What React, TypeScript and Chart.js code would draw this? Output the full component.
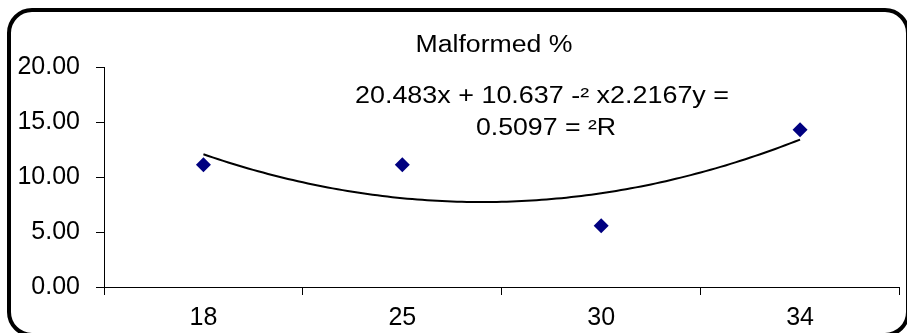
import React, { useEffect, useRef } from "react";
import { Chart, registerables } from "chart.js";

Chart.register(...registerables);

const categories = ["18", "25", "30", "34"];
const malformed = [11.11, 11.11, 5.56, 14.29];
const yMin = 0;
const yMax = 20;
const yStep = 5;
// polynomial trendline y = c0 + c1*x + c2*x^2, x = 1..n
const trendCoefficients = [20.483, -10.637, 2.2167];
const titleText = "Malformed %";
const equationLines = ["20.483x + 10.637 -\u00B2 x2.2167y =", "0.5097 = \u00B2R"];

const FONT = "'Liberation Sans', Arial, sans-serif";

function stretchedText(ctx: any, text: string, cx: number, baseline: number, sx: number) {
  ctx.save();
  ctx.translate(cx, baseline);
  ctx.scale(sx, 1);
  ctx.fillText(text, 0, 0);
  ctx.restore();
}

const overlayPlugin = {
  id: "overlay",
  beforeDatasetsDraw(chart: any) {
    const { ctx, scales } = chart;
    const x = scales.x;
    const y = scales.y;
    const n = categories.length;
    const steps = 120;
    ctx.save();
    ctx.beginPath();
    for (let i = 0; i <= steps; i++) {
      const t = 1 + ((n - 1) * i) / steps;
      const v =
        trendCoefficients[0] + trendCoefficients[1] * t + trendCoefficients[2] * t * t;
      const px = x.getPixelForValue(t - 1);
      const py = y.getPixelForValue(v);
      if (i === 0) ctx.moveTo(px, py);
      else ctx.lineTo(px, py);
    }
    ctx.strokeStyle = "#000";
    ctx.lineWidth = 2;
    ctx.stroke();
    ctx.restore();
  },
  afterDraw(chart: any) {
    const { ctx } = chart;
    ctx.save();
    ctx.fillStyle = "#000";
    ctx.textAlign = "center";
    ctx.textBaseline = "alphabetic";
    ctx.font = `23px ${FONT}`;
    stretchedText(ctx, titleText, 494, 52, 1.16);
    stretchedText(ctx, equationLines[0], 542, 103, 1.17);
    stretchedText(ctx, equationLines[1], 546, 135, 1.16);
    ctx.restore();
  },
};

export default function App() {
  const canvasRef = useRef<HTMLCanvasElement | null>(null);

  useEffect(() => {
    if (!canvasRef.current) return;
    const chart = new Chart(canvasRef.current, {
      type: "line",
      data: {
        labels: categories,
        datasets: [
          {
            label: titleText,
            data: malformed,
            showLine: false,
            pointStyle: "rectRot",
            pointRadius: 7.5,
            pointBackgroundColor: "#000080",
            pointBorderColor: "#000080",
            pointBorderWidth: 0,
          },
        ],
      },
      options: {
        animation: false,
        responsive: false,
        devicePixelRatio: 1,
        layout: { padding: { top: 67, right: 2, left: 0, bottom: 0 } },
        plugins: {
          legend: { display: false },
          title: { display: false },
          tooltip: { enabled: false },
        },
        scales: {
          x: {
            type: "category",
            offset: true,
            grid: {
              offset: true,
              drawOnChartArea: false,
              drawTicks: true,
              tickLength: 8,
              color: "#000",
              lineWidth: 1,
            },
            border: { display: true, color: "#000", width: 1 },
            ticks: {
              color: "#000",
              font: { family: FONT, size: 25 },
              padding: 8,
              maxRotation: 0,
            },
            afterFit: (s: any) => {
              s.height = 46;
            },
          },
          y: {
            min: yMin,
            max: yMax,
            grid: {
              drawOnChartArea: false,
              drawTicks: true,
              tickLength: 8,
              color: "#000",
              lineWidth: 1,
            },
            border: { display: true, color: "#000", width: 1 },
            ticks: {
              stepSize: yStep,
              color: "#000",
              font: { family: FONT, size: 25 },
              padding: 16,
              callback: (v: any) => Number(v).toFixed(2),
            },
            afterFit: (s: any) => {
              s.width = 104;
            },
          },
        },
      },
      plugins: [overlayPlugin],
    } as any);
    return () => chart.destroy();
  }, []);

  return (
    <div
      style={{
        position: "absolute",
        left: 0,
        top: 0,
        width: 907,
        height: 333,
        overflow: "hidden",
        background: "#fff",
      }}
    >
      <div
        style={{
          position: "absolute",
          left: 7,
          top: 8,
          width: 903,
          height: 329,
          boxSizing: "border-box",
          border: "4px solid #000",
          borderRadius: 25,
        }}
      />
      <canvas
        ref={canvasRef}
        width={907}
        height={333}
        style={{ position: "absolute", left: 0, top: 0, width: 907, height: 333 }}
      />
    </div>
  );
}
